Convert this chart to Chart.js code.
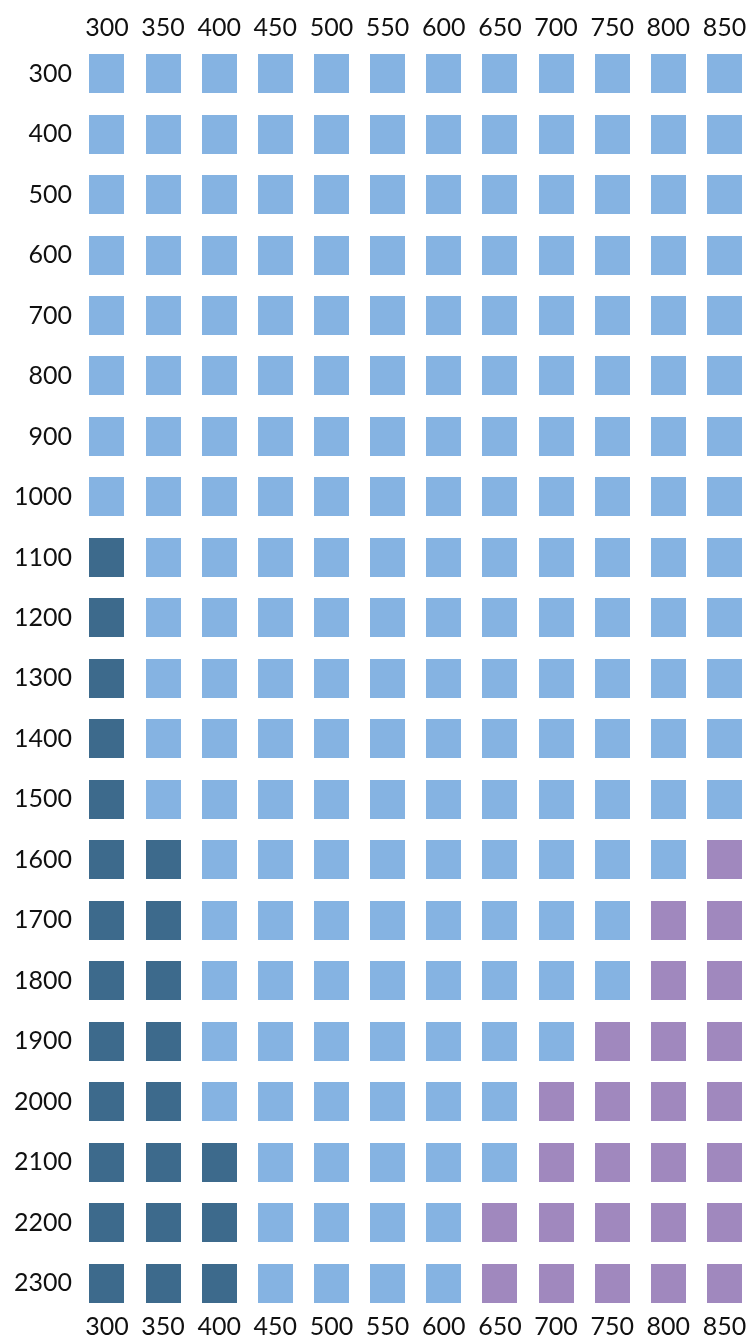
<!DOCTYPE html>
<html>
<head>
<meta charset="utf-8">
<script src="https://cdn.jsdelivr.net/npm/chart.js@4.4.1/dist/chart.umd.min.js"></script>
<style>
  html, body { margin: 0; padding: 0; background: #fff; }
  #wrap { width: 753px; height: 1338px; position: relative; }
</style>
</head>
<body>
<div id="wrap"><canvas id="myChart"></canvas></div>
<script>
// column and row values
var xValues = [300, 350, 400, 450, 500, 550, 600, 650, 700, 750, 800, 850];
var yValues = [300, 400, 500, 600, 700, 800, 900, 1000, 1100, 1200, 1300,
               1400, 1500, 1600, 1700, 1800, 1900, 2000, 2100, 2200, 2300];
// cell class per row (L = light, D = dark, P = purple), one letter per column
var cellClass = [
  "LLLLLLLLLLLL", "LLLLLLLLLLLL", "LLLLLLLLLLLL", "LLLLLLLLLLLL",
  "LLLLLLLLLLLL", "LLLLLLLLLLLL", "LLLLLLLLLLLL", "LLLLLLLLLLLL",
  "DLLLLLLLLLLL", "DLLLLLLLLLLL", "DLLLLLLLLLLL", "DLLLLLLLLLLL",
  "DLLLLLLLLLLL", "DDLLLLLLLLLP", "DDLLLLLLLLPP", "DDLLLLLLLLPP",
  "DDLLLLLLLPPP", "DDLLLLLLPPPP", "DDDLLLLLPPPP", "DDDLLLLPPPPP",
  "DDDLLLLPPPPP"
];
var classColors = { L: "#85b3e2", D: "#3d6a8c", P: "#a088be" };

function square(color) {
  var c = document.createElement("canvas");
  c.width = 35; c.height = 39;
  var g = c.getContext("2d");
  g.fillStyle = color;
  g.fillRect(0, 0, 35, 39);
  return c;
}

var datasets = Object.keys(classColors).map(function (k) {
  var pts = [];
  yValues.forEach(function (y, r) {
    xValues.forEach(function (x, ci) {
      if (cellClass[r][ci] === k) pts.push({ x: x, y: y });
    });
  });
  return {
    label: k,
    data: pts,
    pointStyle: square(classColors[k]),
    backgroundColor: classColors[k]
  };
});

var tickFont = { family: "Lato", size: 25 };
function plain(v) { return String(v); }
function setTicks(vals) {
  return function (scale) { scale.ticks = vals.map(function (v) { return { value: v }; }); };
}
function fixH(h) {
  return function (scale) { scale.height = h; scale.paddingLeft = 0; scale.paddingRight = 0; };
}

var ctx = document.getElementById("myChart").getContext("2d");
new Chart(ctx, {
  type: "scatter",
  data: { datasets: datasets },
  options: {
    responsive: true,
    maintainAspectRatio: false,
    animation: false,
    events: [],
    layout: { padding: 0 },
    plugins: { legend: { display: false }, tooltip: { enabled: false } },
    scales: {
      x: {
        type: "linear", position: "bottom", min: 276, max: 871,
        grid: { display: false, drawTicks: false }, border: { display: false },
        afterBuildTicks: setTicks(xValues), afterFit: fixH(33),
        ticks: { color: "#111", font: tickFont, padding: 7, maxRotation: 0, autoSkip: false, callback: plain }
      },
      x2: {
        type: "linear", position: "top", min: 276, max: 871,
        grid: { display: false, drawTicks: false }, border: { display: false },
        afterBuildTicks: setTicks(xValues), afterFit: fixH(50),
        ticks: { color: "#111", font: tickFont, padding: 7, maxRotation: 0, autoSkip: false, callback: plain }
      },
      y: {
        type: "linear", reverse: true, min: 261, max: 2336,
        grid: { display: false, drawTicks: false }, border: { display: false },
        afterBuildTicks: setTicks(yValues),
        afterFit: function (scale) { scale.width = 80; scale.paddingTop = 0; scale.paddingBottom = 0; },
        ticks: { color: "#111", font: tickFont, padding: 8, autoSkip: false, callback: plain }
      }
    }
  }
});
</script>
</body>
</html>
